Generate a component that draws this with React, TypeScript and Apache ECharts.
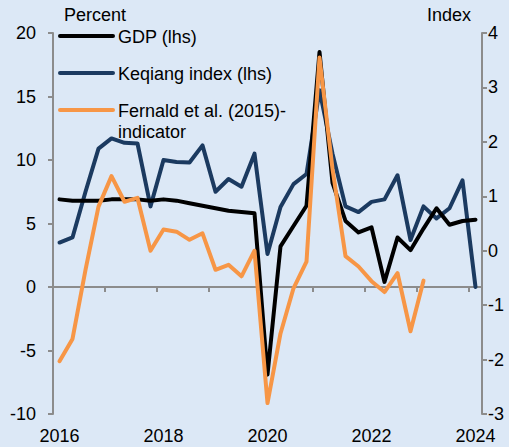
import React, { useEffect, useRef } from "react";
import * as echarts from "echarts";

const quarters: string[] = [];
for (const y of [2016, 2017, 2018, 2019, 2020, 2021, 2022, 2023]) {
  for (const q of [1, 2, 3, 4]) quarters.push(`${y}Q${q}`);
}
quarters.push("2024Q1");

const gdp = [6.9, 6.8, 6.8, 6.8, 6.9, 6.9, 6.9, 6.8, 6.9, 6.8, 6.6, 6.4, 6.2, 6.0, 5.9, 5.8, -6.9, 3.2, 4.8, 6.4, 18.5, 8.2, 5.2, 4.3, 4.7, 0.4, 3.9, 2.9, 4.6, 6.2, 4.9, 5.2, 5.3];
const keqiang = [3.5, 3.9, 7.5, 10.9, 11.7, 11.35, 11.3, 6.35, 10.0, 9.85, 9.8, 11.15, 7.5, 8.5, 7.9, 10.5, 2.6, 6.3, 8.1, 8.9, 15.5, 10.5, 6.35, 5.9, 6.7, 6.9, 8.8, 3.7, 6.35, 5.4, 6.2, 8.4, 0];
const fernald = [-2.03, -1.62, -0.35, 0.81, 1.37, 0.9, 0.97, 0.0, 0.39, 0.35, 0.2, 0.32, -0.35, -0.26, -0.47, 0.0, -2.8, -1.52, -0.69, -0.2, 3.55, 1.5, -0.1, -0.29, -0.56, -0.76, -0.41, -1.48, -0.55];

const legendNames = ["GDP (lhs)", "Keqiang index (lhs)", "Fernald et al. (2015)-\nindicator"];
const colors = { gdp: "#000000", keqiang: "#1b3a60", fernald: "#f79646" };
const FONT = "'Liberation Sans', Arial, sans-serif";
const AXIS_COLOR = "#8c8c8c";

export default function App() {
  const ref = useRef<HTMLDivElement>(null);
  useEffect(() => {
    if (!ref.current) return;
    const chart = echarts.init(ref.current, undefined, { renderer: "svg" });
    const axisLine = { show: true, lineStyle: { color: AXIS_COLOR, width: 2 } };
    const tick = { show: true, length: 5, lineStyle: { color: AXIS_COLOR, width: 2 } };
    const legendRows = [
      { y: 36, color: colors.gdp, text: legendNames[0] },
      { y: 73, color: colors.keqiang, text: legendNames[1] },
      { y: 110, color: colors.fernald, text: legendNames[2] },
    ];
    const graphic: any[] = [];
    legendRows.forEach((r) => {
      graphic.push({
        type: "line",
        shape: { x1: 60, y1: r.y, x2: 113, y2: r.y },
        style: { stroke: r.color, lineWidth: 4, lineCap: "round" },
      });
      graphic.push({
        type: "text",
        x: 118,
        y: r.y - 10,
        style: { text: r.text, fill: "#000", font: `18px ${FONT}`, lineHeight: 21.5, textVerticalAlign: "top" },
      });
    });
    graphic.push({ type: "text", x: 64, y: 6, style: { text: "Percent", fill: "#000", font: `18px ${FONT}` } });
    graphic.push({ type: "text", x: 427, y: 6, style: { text: "Index", fill: "#000", font: `18px ${FONT}` } });

    const lineStyle = (color: string) => ({ color, width: 4, join: "round", cap: "round" });

    chart.setOption({
      animation: false,
      backgroundColor: "#dce8f6",
      grid: { left: 53, right: 27, top: 33, bottom: 33, containLabel: false },
      xAxis: [
        {
          type: "category",
          data: quarters,
          boundaryGap: true,
          axisLine: { ...axisLine, onZero: true, onZeroAxisIndex: 0 },
          axisTick: { ...tick, interval: 3 },
          axisLabel: { show: false },
          splitLine: { show: false },
        },
        {
          type: "category",
          data: quarters,
          position: "bottom",
          boundaryGap: true,
          axisLine: { show: false, onZero: false },
          axisTick: { show: false },
          axisLabel: {
            interval: 7,
            margin: 13,
            fontSize: 18,
            fontFamily: FONT,
            color: "#000",
            formatter: (v: string) => v.slice(0, 4),
          },
          splitLine: { show: false },
        },
      ],
      yAxis: [
        {
          type: "value",
          min: -10,
          max: 20,
          interval: 5,
          position: "left",
          axisLine,
          axisTick: tick,
          splitLine: { show: false },
          axisLabel: { margin: 17, fontSize: 18, fontFamily: FONT, color: "#000" },
        },
        {
          type: "value",
          min: -3,
          max: 4,
          interval: 1,
          position: "right",
          axisLine,
          axisTick: tick,
          splitLine: { show: false },
          axisLabel: { margin: 6, fontSize: 18, fontFamily: FONT, color: "#000" },
        },
      ],
      series: [
        {
          name: "Keqiang index (lhs)",
          type: "line",
          data: keqiang,
          xAxisIndex: 0,
          yAxisIndex: 0,
          symbol: "none",
          lineStyle: lineStyle(colors.keqiang),
          z: 2,
        },
        {
          name: "GDP (lhs)",
          type: "line",
          data: gdp,
          xAxisIndex: 0,
          yAxisIndex: 0,
          symbol: "none",
          lineStyle: lineStyle(colors.gdp),
          z: 3,
        },
        {
          name: "Fernald et al. (2015)-indicator",
          type: "line",
          data: fernald,
          xAxisIndex: 0,
          yAxisIndex: 1,
          symbol: "none",
          lineStyle: lineStyle(colors.fernald),
          z: 4,
        },
      ],
      graphic,
    });
    return () => chart.dispose();
  }, []);
  return (
    <div
      ref={ref}
      style={{ position: "fixed", left: 0, top: 0, width: 509, height: 447, background: "#dce8f6" }}
    />
  );
}
